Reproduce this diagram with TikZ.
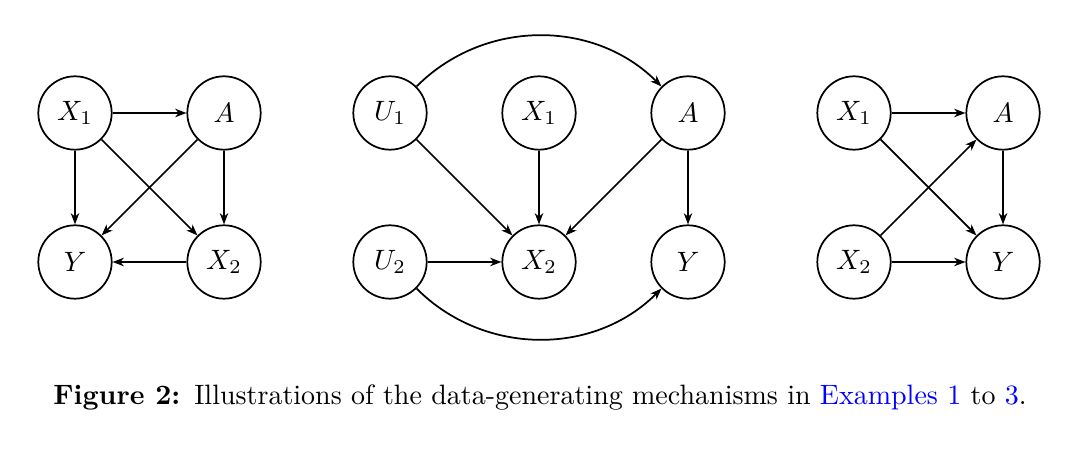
\documentclass[tikz,border=0pt]{standalone}
\usetikzlibrary{arrows.meta}
\begin{document}
\begin{tikzpicture}[x=0.357pt,y=-0.357pt,
  var/.style={circle,draw,line width=0.62pt,minimum size=26.2pt,inner sep=0pt,font=\normalsize},
  arr/.style={-{Stealth[length=4pt,width=3pt,inset=1.2pt]},line width=0.62pt}]
\useasboundingbox (0,0) rectangle (1080,453);
% left
\node[var] (lX1) at (75,113) {$X_1$};
\node[var] (lA) at (224,113) {$A$};
\node[var] (lY) at (75,262) {$Y$};
\node[var] (lX2) at (224,262) {$X_2$};
\draw[arr] (lX1) -- (lA);
\draw[arr] (lX1) -- (lY);
\draw[arr] (lX1) -- (lX2);
\draw[arr] (lA) -- (lY);
\draw[arr] (lA) -- (lX2);
\draw[arr] (lX2) -- (lY);
% middle
\node[var] (mU1) at (390,113) {$U_1$};
\node[var] (mX1) at (539,113) {$X_1$};
\node[var] (mA) at (688,113) {$A$};
\node[var] (mU2) at (390,262) {$U_2$};
\node[var] (mX2) at (539,262) {$X_2$};
\node[var] (mY) at (688,262) {$Y$};
\draw[arr] (mU1) to[out=45,in=135] (mA);
\draw[arr] (mU1) -- (mX2);
\draw[arr] (mX1) -- (mX2);
\draw[arr] (mA) -- (mX2);
\draw[arr] (mA) -- (mY);
\draw[arr] (mU2) -- (mX2);
\draw[arr] (mU2) to[out=-45,in=-135] (mY);
% right
\node[var] (rX1) at (854,113) {$X_1$};
\node[var] (rA) at (1003,113) {$A$};
\node[var] (rX2) at (854,262) {$X_2$};
\node[var] (rY) at (1003,262) {$Y$};
\draw[arr] (rX1) -- (rA);
\draw[arr] (rX1) -- (rY);
\draw[arr] (rX2) -- (rA);
\draw[arr] (rX2) -- (rY);
\draw[arr] (rA) -- (rY);
% caption
\node (cap) at (540,398) {\textbf{Figure 2:}\enspace Illustrations of the data-generating mechanisms in \textcolor{blue}{Examples 1} to \textcolor{blue}{3}.};
\end{tikzpicture}
\end{document}
